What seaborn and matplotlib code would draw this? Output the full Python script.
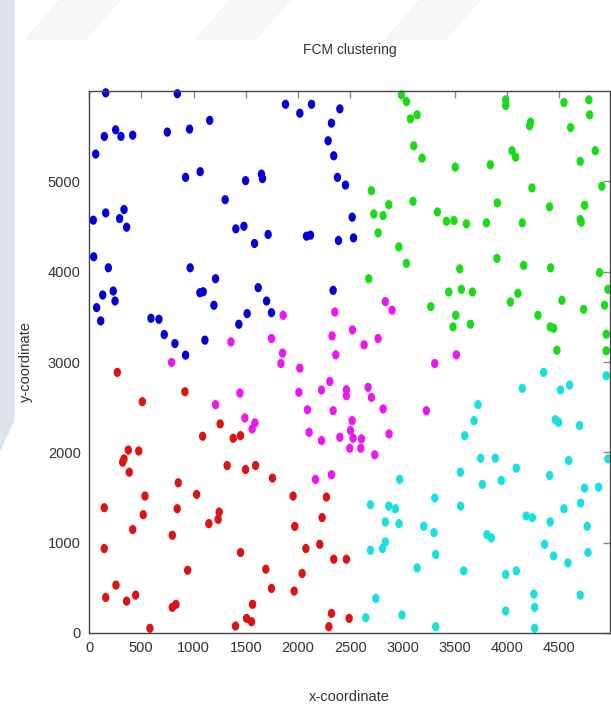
import numpy as np
import pandas as pd
import matplotlib
matplotlib.use('Agg')
import matplotlib.pyplot as plt
import seaborn as sns
from matplotlib.patches import Polygon

# 聚类结果（从原图读取的近似坐标）
blue_x = [160, 845, 1155, 255, 306, 147, 418, 749, 962, 64, 924, 1064, 1498, 1650, 1660, 1303,
          41, 160, 335, 293, 360, 1405, 1482, 1584, 1714, 45, 185, 968,
          1880, 2017, 2129, 2400, 2320, 2288, 2342, 2377, 2454, 2518, 2081, 2119, 2387, 2531,
          1211, 1619, 1699, 1746, 232, 131, 249, 73, 112, 1061, 1093, 1195, 1513, 1434,
          593, 669, 720, 822, 924, 1109, 2336]
blue_y = [5980, 5970, 5675, 5570, 5497, 5497, 5511, 5545, 5578, 5302, 5044, 5107, 5008, 5080, 5030, 4797,
          4570, 4650, 4688, 4588, 4492, 4474, 4503, 4312, 4412, 4165, 4043, 4043,
          5853, 5754, 5853, 5802, 5644, 5449, 5283, 5044, 4959, 4603, 4393, 4404, 4345, 4374,
          3922, 3823, 3675, 3546, 3786, 3742, 3675, 3602, 3455, 3767, 3778, 3628, 3536, 3418,
          3484, 3473, 3304, 3204, 3076, 3242, 3793]

green_x = [2989, 3037, 3075, 3139, 3107, 3187, 2702, 3100, 2868, 3334, 2725, 2814, 2766, 2964, 3037,
           3987, 3987, 4544, 4783, 4790, 4226, 4216, 4608, 4047, 4082, 4844, 4700, 3505, 3840,
           4238, 4907, 3907, 4407, 4742, 3420, 3492, 3611, 3802, 4146, 4700, 4710, 3903, 3547,
           4159, 4417, 4885, 2677, 3270,
           3442, 3563, 3668, 4104, 4032, 4525, 4732, 4965, 4933, 3509, 3483, 3649, 4296, 4413,
           4445, 4477, 4949, 4949]
green_y = [5957, 5883, 5692, 5736, 5394, 5257, 4897, 4779, 4742, 4661, 4639, 4621, 4429, 4275, 4092,
           5902, 5839, 5872, 5902, 5736, 5655, 5615, 5596, 5339, 5268, 5339, 5221, 5158, 5184,
           4927, 4945, 4761, 4717, 4735, 4558, 4566, 4529, 4540, 4540, 4577, 4547, 4147, 4032,
           4069, 4043, 3990, 3922, 3613,
           3775, 3804, 3775, 3760, 3664, 3683, 3584, 3804, 3628, 3517, 3389, 3418, 3517, 3389,
           3374, 3131, 3308, 3124]

magenta_x = [1358, 790, 1444, 1211, 1491, 1587, 1561,
             1858, 2352, 2836, 2900, 2521, 2326, 2766, 1746, 2632, 1852, 1836, 2361, 2017, 3308,
             2304, 2008, 2225, 2463, 2463, 2670, 2702, 2090, 2336, 2814, 3228, 2518, 2106, 2502,
             2527, 2225, 2400, 2607, 2871, 2495, 2600, 2734, 2167, 2320, 3515]
magenta_y = [3223, 2995, 2656, 2528, 2381, 2326, 2259,
             3517, 3554, 3668, 3573, 3355, 3289, 3260, 3260, 3190, 3098, 2983, 3079, 2932, 2983,
             2784, 2664, 2690, 2693, 2627, 2719, 2608, 2472, 2461, 2480, 2461, 2351, 2222, 2241,
             2156, 2130, 2167, 2149, 2204, 2045, 2045, 1973, 1700, 1752, 3079]

red_x = [271, 510, 918, 1255, 1087, 1380, 1450, 376, 476, 335, 322, 385,
         1322, 1498, 1594, 854, 535, 1030, 146, 519, 844, 1246, 1236, 1147, 418, 797, 146,
         1450, 944, 1692, 258, 160, 360, 446, 797, 832, 1565, 1508, 1555, 1402, 583,
         1756, 1953, 2272, 2230, 1969, 2208, 2075, 2342, 2463, 2039, 1746, 1963, 2320, 2489, 2295]
red_y = [2885, 2561, 2671, 2315, 2178, 2156, 2185, 2025, 2015, 1928, 1891, 1780,
         1854, 1810, 1854, 1663, 1516, 1534, 1387, 1310, 1376, 1339, 1258, 1211, 1145, 1082, 935,
         891, 695, 706, 530, 394, 353, 419, 284, 317, 317, 162, 125, 77, 52,
         1714, 1516, 1505, 1277, 1181, 982, 935, 817, 817, 659, 493, 464, 217, 162, 70]

cyan_x = [4350, 4949, 4146, 4512, 4598, 3722, 3684, 3595, 4461, 4493, 4694,
          2973, 3308, 2693, 2868, 2932, 2836, 2966, 3203, 3301, 2836, 2808, 2693, 3317, 3139,
          2744, 2648, 2995, 3317,
          3748, 3888, 3553, 4089, 4589, 4965, 3764, 3945, 4407, 4742, 4876, 3556, 4704, 4544,
          4184, 4242, 4413, 4767, 3808, 3850, 4359, 4445, 4582, 4774, 3585, 3987, 4089, 4257,
          4264, 3987, 4700, 4264]
cyan_y = [2885, 2848, 2708, 2690, 2745, 2528, 2351, 2185, 2362, 2332, 2296,
          1700, 1494, 1420, 1405, 1376, 1229, 1211, 1181, 1111, 1008, 935, 916, 869, 721,
          383, 169, 199, 70,
          1935, 1935, 1780, 1825, 1909, 1928, 1645, 1689, 1744, 1604, 1615, 1405, 1439, 1376,
          1295, 1277, 1229, 1181, 1089, 1052, 982, 853, 776, 891, 688, 648, 688, 430,
          284, 243, 419, 52]

cluster_names = ['blue', 'green', 'magenta', 'red', 'cyan']
cluster_colors = ['#0000d8', '#16dd16', '#ee16ee', '#dd1212', '#16e0e0']

x_ticks = [0, 500, 1000, 1500, 2000, 2500, 3000, 3500, 4000, 4500]
y_ticks = [0, 1000, 2000, 3000, 4000, 5000]

# 合并成一个表
parts = []
for name, xs, ys in zip(cluster_names,
                        [blue_x, green_x, magenta_x, red_x, cyan_x],
                        [blue_y, green_y, magenta_y, red_y, cyan_y]):
    parts.append(pd.DataFrame({'x': xs, 'y': ys, 'cluster': name}))
df = pd.concat(parts, ignore_index=True)

sns.set_style('white')
plt.rcParams['font.family'] = ['Liberation Sans Narrow', 'Liberation Sans', 'DejaVu Sans']

W, H = 611, 706
fig = plt.figure(figsize=(W / 100, H / 100), dpi=100)

# 背景里淡淡的水印形状
fig.patches.append(Polygon([[0, 1], [14 / W, 1], [14 / W, 1 - 420 / H], [0, 1 - 450 / H]],
                           closed=True, transform=fig.transFigure, color='#dde3ea', zorder=0))
for x0 in [60, 230, 420]:
    fig.patches.append(Polygon([[x0 / W, 1], [(x0 + 60) / W, 1], [(x0 + 25) / W, 1 - 40 / H], [(x0 - 35) / W, 1 - 40 / H]],
                               closed=True, transform=fig.transFigure, color='#eef1f4', alpha=0.5, zorder=0))

ax = fig.add_axes([89 / W, 1 - 633 / H, (610 - 89) / W, (633 - 91) / H])
ax.set_facecolor('none')

# 点略高于宽，用椭圆形标记
t = np.linspace(0, 2 * np.pi, 40)
dot = list(zip(0.8 * np.cos(t), np.sin(t)))

sns.scatterplot(data=df, x='x', y='y', hue='cluster', hue_order=cluster_names,
                palette=cluster_colors, s=44, marker=dot, linewidth=0, legend=False,
                clip_on=False, ax=ax)

ax.set_xlim(0, 4985)
ax.set_ylim(0, 6000)
ax.set_xticks(x_ticks)
ax.set_yticks(y_ticks)
ax.tick_params(direction='in', length=5, width=1, color='#888888',
               top=True, right=True, labelsize=10.5, labelcolor='#333333')
ax.tick_params(axis='x', pad=6)
ax.tick_params(axis='y', pad=6)
for sp in ax.spines.values():
    sp.set_color('#444444')
    sp.set_linewidth(1)
    sp.set_visible(True)

ax.set_xlabel('x-coordinate', fontsize=10.5, color='#333333')
ax.set_ylabel('y-coordinate', fontsize=10.5, color='#333333')
ax.xaxis.set_label_coords(0.5, -0.105)
ax.yaxis.set_label_coords(-0.107, 0.5)

fig.text(350 / W, 1 - 50 / H, 'FCM clustering', fontsize=10, color='#333333',
         ha='center', va='center')

plt.savefig('out.png', dpi=100)
